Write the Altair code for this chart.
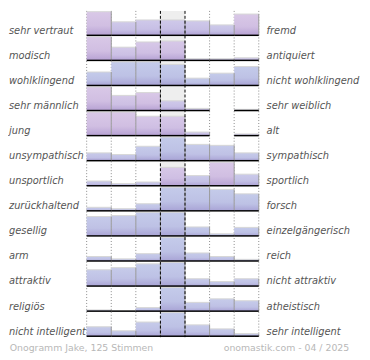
import altair as alt
import pandas as pd

left_labels = ["sehr vertraut", "modisch", "wohlklingend", "sehr männlich", "\u00a0jung",
               "unsympathisch", "unsportlich", "zurückhaltend", "gesellig", "arm",
               "attraktiv", "religiös", "nicht intelligent"]
right_labels = ["fremd", "antiquiert", "nicht wohlklingend", "sehr weiblich", "alt",
                "sympathisch", "sportlich", "forsch", "einzelgängerisch", "reich",
                "nicht attraktiv", "atheistisch", "sehr intelligent"]

# share of votes per scale step, relative to the row maximum (=100)
values = [
    [100, 57, 65, 65, 61, 44, 90],
    [100, 56, 78, 82, 7, 7, 11],
    [57, 100, 100, 89, 31, 52, 80],
    [100, 64, 76, 41, 9, 0, 5],
    [100, 100, 82, 82, 15, 0, 7],
    [33, 26, 61, 100, 69, 65, 33],
    [20, 9, 16, 78, 43, 100, 49],
    [15, 9, 30, 100, 100, 91, 72],
    [82, 86, 100, 100, 38, 9, 36],
    [19, 9, 31, 100, 34, 19, 7],
    [69, 78, 94, 100, 31, 19, 31],
    [5, 1, 15, 100, 37, 52, 44],
    [40, 23, 60, 100, 48, 31, 11],
]
# 0 = blue tone, 1 = pink tone
tones = [
    [1, 0.5, 0.5, 0.5, 0.5, 0.4, 1],
    [1, 0.7, 0.9, 0.9, 0.5, 0.5, 0.5],
    [0, 0, 0, 0, 0, 0, 0],
    [1, 0.8, 1, 0.5, 0.5, 0, 0.5],
    [1, 1, 0.9, 0.9, 0.5, 0, 0.5],
    [0.2, 0.2, 0.1, 0, 0.1, 0.1, 0.1],
    [0.3, 0.3, 0.3, 0.9, 0.3, 1, 0.3],
    [0.1, 0.1, 0.1, 0, 0, 0, 0],
    [0.1, 0.1, 0, 0, 0, 0, 0],
    [0.1, 0.1, 0.1, 0, 0.1, 0.1, 0.1],
    [0.1, 0.1, 0, 0, 0.1, 0.1, 0.1],
    [0.1, 0.1, 0.1, 0, 0.1, 0.1, 0.1],
    [0.1, 0.1, 0.1, 0, 0.1, 0.1, 0.1],
]
footer_left = "Onogramm Jake, 125 Stimmen"
footer_right = "onomastik.com - 04 / 2025"

ROW = 26.0
MAXH = 24.5
BASE0 = 25.3
NROWS = len(values)

bars = []
for k, row in enumerate(values):
    base = BASE0 + ROW * k
    for i, v in enumerate(row):
        bars.append({"c0": i, "c1": i + 1, "base": base,
                     "top": base - v / 100.0 * MAXH, "v": v, "tone": tones[k][i]})
bars = pd.DataFrame(bars)

labels = pd.DataFrame({
    "left": left_labels,
    "right": right_labels,
    "ly": [BASE0 + ROW * k - 1.7 for k in range(NROWS)],
})

grid = pd.DataFrame({"b": list(range(8)), "y0": 0.0, "y1": BASE0 + ROW * (NROWS - 1) + 1.0})
grid["kind"] = ["dot", "dot", "dot", "dash", "dash", "dot", "dot", "dot"]
band = pd.DataFrame({"c0": [3], "c1": [4], "y0": [0.0], "y1": [BASE0 + ROW * (NROWS - 1) + 1.0]})

xs = alt.Scale(domain=[0, 7], range=[80, 255])
ys = alt.Scale(domain=[0, 338], range=[0, 331.5])

bg = alt.Chart(band).mark_rect(color="#eeeeee").encode(
    x=alt.X("c0:Q", scale=xs, axis=None), x2="c1:Q",
    y=alt.Y("y0:Q", scale=ys, axis=None), y2="y1:Q")

dots = alt.Chart(grid).transform_filter("datum.kind == 'dot'").mark_rule(
    color="#8a8a8a", strokeDash=[1, 2], strokeWidth=1).encode(
    x=alt.X("b:Q", scale=xs, axis=None),
    y=alt.Y("y0:Q", scale=ys, axis=None), y2="y1:Q")

fill = alt.Chart(bars).transform_filter("datum.v > 0").mark_rect().encode(
    x=alt.X("c0:Q", scale=xs, axis=None), x2="c1:Q",
    y=alt.Y("top:Q", scale=ys, axis=None), y2="base:Q",
    color=alt.Color("tone:Q", scale=alt.Scale(domain=[0, 1], range=["#c4cbea", "#d9c8e7"]),
                    legend=None))

shade = alt.Chart(bars).transform_filter("datum.v > 0").mark_rect(
    color=alt.Gradient(gradient="linear", x1=0, x2=0, y1=0, y2=1,
                       stops=[alt.GradientStop(color="rgba(110,80,170,0)", offset=0),
                              alt.GradientStop(color="rgba(110,80,170,0.08)", offset=0.6),
                              alt.GradientStop(color="rgba(110,80,170,0.32)", offset=1)])
).encode(
    x=alt.X("c0:Q", scale=xs, axis=None), x2="c1:Q",
    y=alt.Y("top:Q", scale=ys, axis=None), y2="base:Q")

topedge = alt.Chart(bars).transform_filter("datum.v > 0").mark_rule(
    color="#d6d6d6", strokeWidth=1).encode(
    x=alt.X("c0:Q", scale=xs, axis=None), x2="c1:Q",
    y=alt.Y("top:Q", scale=ys, axis=None))

rightedge = alt.Chart(bars).transform_filter("datum.v > 0").mark_rule(
    color="#999999", strokeWidth=1).encode(
    x=alt.X("c1:Q", scale=xs, axis=None),
    y=alt.Y("top:Q", scale=ys, axis=None), y2="base:Q")

baseline = alt.Chart(bars).transform_filter("datum.v > 0").mark_rule(
    color="#000000", strokeWidth=1.5).encode(
    x=alt.X("c0:Q", scale=xs, axis=None), x2="c1:Q",
    y=alt.Y("base:Q", scale=ys, axis=None))

dashes = alt.Chart(grid).transform_filter("datum.kind == 'dash'").mark_rule(
    color="#000000", strokeDash=[3, 2], strokeWidth=1).encode(
    x=alt.X("b:Q", scale=xs, axis=None),
    y=alt.Y("y0:Q", scale=ys, axis=None), y2="y1:Q")

txt = dict(font="DejaVu Sans", fontSize=10, fontStyle="italic", color="#555555",
           align="left", baseline="alphabetic")
ltext = alt.Chart(labels).mark_text(**txt).encode(
    x=alt.value(1), y=alt.Y("ly:Q", scale=ys, axis=None), text="left:N")
rtext = alt.Chart(labels).mark_text(**txt).encode(
    x=alt.value(263), y=alt.Y("ly:Q", scale=ys, axis=None), text="right:N")

foot_l = alt.Chart(pd.DataFrame({"t": [footer_left]})).mark_text(
    font="DejaVu Sans", fontSize=9.5, color="#b8b8b8", align="left", baseline="alphabetic"
).encode(x=alt.value(1.7), y=alt.value(346), text="t:N")
foot_r = alt.Chart(pd.DataFrame({"t": [footer_right]})).mark_text(
    font="DejaVu Sans", fontSize=9.5, color="#b8b8b8", align="right", baseline="alphabetic"
).encode(x=alt.value(347), y=alt.value(346), text="t:N")

chart = alt.layer(bg, dots, fill, shade, topedge, rightedge, baseline, dashes,
                  ltext, rtext, foot_l, foot_r).properties(
    width=360, height=350,
    autosize=alt.AutoSizeParams(type="none"),
    padding=0,
).configure_view(stroke=None)

chart.save("out.html", embed_options={"renderer": "svg", "actions": False})
